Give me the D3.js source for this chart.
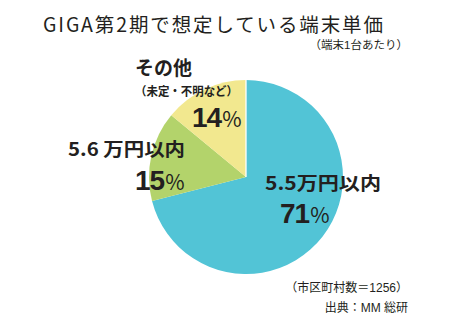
<!DOCTYPE html>
<html><head><meta charset="utf-8">
<script src="https://cdn.jsdelivr.net/npm/d3@7"></script>
<style>
html,body{margin:0;padding:0;background:#fff;}
svg{display:block;}
</style></head>
<body>
<svg id="chart" width="464" height="334"></svg>
<script>
const categories = ["5.5万円以内", "5.6 万円以内", "その他"];
const values = [71, 15, 14];
const subLabels = ["", "", "（未定・不明など）"];
const colors = ["#52C4D6", "#B3D36B", "#F2E88F"];
const titleText = "GIGA第2期で想定している端末単価";
const subtitleText = "（端末1台あたり）";
const noteTexts = ["（市区町村数＝1256）", "出典：MM 総研"];

const svg = d3.select("#chart");
const ink = "#231F20";
const jp = "'Noto Sans CJK JP','Noto Sans',sans-serif";
const num = "'Liberation Sans',Arial,sans-serif";
const mixed = "'Liberation Sans','Noto Sans CJK JP',sans-serif";

const cx = 246, cy = 177, r = 97;
const pie = d3.pie().sort(null).value(d => d)(values);
const arc = d3.arc().innerRadius(0).outerRadius(r);
const g = svg.append("g").attr("transform", `translate(${cx},${cy})`);
g.selectAll("path.slice").data(pie).enter().append("path")
  .attr("class", "slice")
  .attr("d", arc)
  .attr("fill", (d, i) => colors[i]);
// thin white seam at the start boundary
const a0 = pie[0].startAngle;
g.append("line")
  .attr("x1", 0).attr("y1", 0)
  .attr("x2", Math.sin(a0) * (r + 1)).attr("y2", -Math.cos(a0) * (r + 1))
  .attr("stroke", "#fff").attr("stroke-width", 1.3);

// title
svg.append("text").attr("x", 43).attr("y", 32)
  .attr("font-family", jp).attr("font-size", 19.5).attr("font-weight", 400)
  .attr("fill", ink).attr("textLength", 340).attr("lengthAdjust", "spacing")
  .text(titleText);
svg.append("text").attr("x", 408).attr("y", 49).attr("text-anchor", "end")
  .attr("font-family", mixed).attr("font-size", 11.5).attr("fill", ink)
  .text(subtitleText);

// labels: category line, optional sub-label, percent
const labelPos = [
  {cat: [265, 190, 381], pct: [280, 223], cs: 18, ps: 28},
  {cat: [68, 156, 185], pct: [135, 190], cs: 18, ps: 28},
  {cat: [135, 75, 192], sub: [135, 96, 238], pct: [192, 127], cs: 19.5, ps: 28}
];
categories.forEach((c, i) => {
  const p = labelPos[i];
  svg.append("text").attr("x", p.cat[0]).attr("y", p.cat[1])
    .attr("font-family", jp).attr("font-size", p.cs).attr("font-weight", 700)
    .attr("fill", ink).attr("textLength", p.cat[2] - p.cat[0]).attr("lengthAdjust", "spacingAndGlyphs")
    .text(c);
  if (p.sub && subLabels[i]) {
    svg.append("text").attr("x", p.sub[0]).attr("y", p.sub[1])
      .attr("font-family", jp).attr("font-size", 12).attr("font-weight", 700)
      .attr("fill", ink).attr("textLength", p.sub[2] - p.sub[0]).attr("lengthAdjust", "spacingAndGlyphs")
      .text(subLabels[i]);
  }
  const t = svg.append("text").attr("x", p.pct[0]).attr("y", p.pct[1]).attr("fill", ink);
  t.append("tspan").attr("font-family", num).attr("font-size", p.ps).attr("font-weight", 700)
    .attr("letter-spacing", -1).text(values[i]);
  t.append("tspan").attr("dx", 1).attr("font-family", jp).attr("font-size", 21).attr("font-weight", 400)
    .text("%");
});

// notes
svg.append("text").attr("x", 408).attr("y", 292).attr("text-anchor", "end")
  .attr("font-family", mixed).attr("font-size", 12).attr("fill", ink).text(noteTexts[0]);
svg.append("text").attr("x", 408).attr("y", 312).attr("text-anchor", "end")
  .attr("font-family", mixed).attr("font-size", 12).attr("fill", ink).text(noteTexts[1]);
</script>
</body></html>
